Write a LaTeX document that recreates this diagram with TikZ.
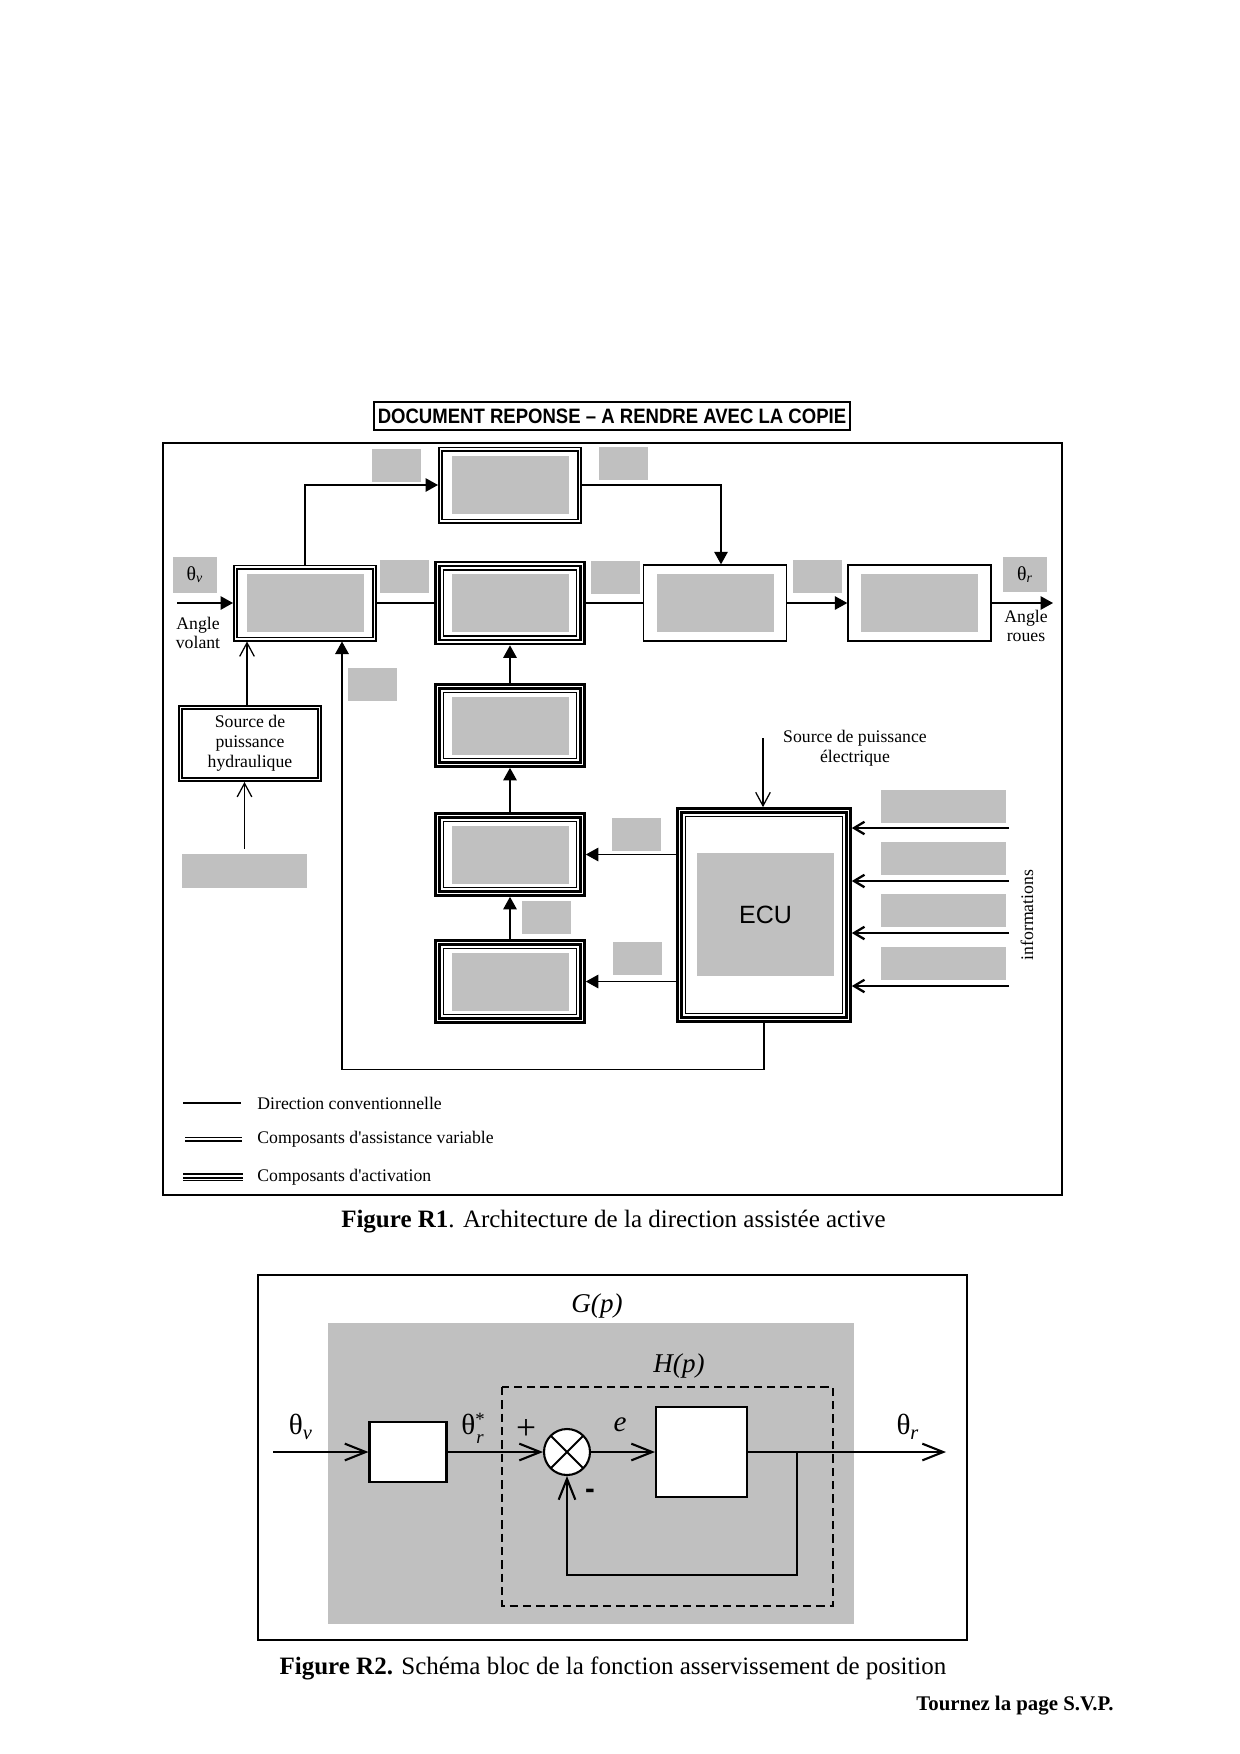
\documentclass[tikz,border=0pt]{standalone}
\usepackage{fontspec}
\setmainfont{Liberation Serif}
\setsansfont{Liberation Sans}
\usepackage{graphicx}
\usetikzlibrary{arrows.meta,calc}
\definecolor{panelgray}{RGB}{192,192,192}
\newcommand{\pxl}{0.48pt}

\begin{document}
\begin{tikzpicture}[x=0.48pt, y=-0.48pt,
  conv/.style={draw, fill=white, line width=0.65pt, minimum width=143*\pxl, minimum height=76*\pxl, inner sep=0pt},
  var/.style={draw, fill=white, line width=0.75pt, double, double distance=0.9pt, outer sep=1.2pt, minimum width=139*\pxl, minimum height=72*\pxl, inner sep=0pt},
  act/.style={draw, fill=white, line width=1.35pt, double, double distance=0.5pt, outer sep=1.6pt, minimum width=145*\pxl, minimum height=78*\pxl, inner sep=0pt},
  ans/.style={fill=panelgray, inner sep=0pt, minimum width=49*\pxl, minimum height=33*\pxl},
  lab/.style={font=\fontsize{8.5}{9.5}\selectfont, align=center, inner sep=0pt},
  arr/.style={-{Triangle[length=6pt,width=6.5pt]}, line width=0.6pt},
  barb/.style={-{Straight Barb[length=6.5pt,width=7pt]}, line width=0.6pt},
  ibarb/.style={-{Straight Barb[length=5pt,width=6pt,line width=1.1pt]}, line width=0.6pt},
  sarr/.style={-{Straight Barb[length=10pt,width=8pt]}, line width=1pt},
  blk/.style={draw, fill=white, line width=1pt, inner sep=0pt},
  big/.style={font=\fontsize{14}{16}\selectfont, inner sep=0pt}
]
\useasboundingbox (0,0) rectangle (1240,1754);

% ---- Figure R1
\node[draw, line width=0.5pt, minimum width=476*\pxl, minimum height=28*\pxl, inner sep=0pt,
  font=\sffamily\bfseries\fontsize{10}{12}\selectfont] (title) at (612,416)
  {\scalebox{0.89}[1]{DOCUMENT REPONSE \textendash\ A RENDRE AVEC LA COPIE}};
\draw[line width=0.6pt] (163,443) rectangle (1062,1195);

% blocs
\node[var] (steer) at (305,603) {};
\node[var] (valve) at (510,485) {};
\node[act] (act1) at (510,603) {};
\node[conv] (rack) at (715,603) {};
\node[conv] (wheels) at (919.5,603) {};
\node[act] (act2) at (510,725.5) {};
\node[act] (act3) at (510,854.5) {};
\node[act] (act4) at (510,981.5) {};
\node[var, lab] (hydro) at (250,743.5) {Source de\\puissance\\hydraulique};
\node[act, minimum width=169*\pxl, minimum height=209*\pxl] (ecu) at (764,915) {};

\foreach \b in {steer,valve,act1,rack,wheels,act2,act3,act4}
  \fill[panelgray] ([shift={(-58.5,-29)}]\b.center) rectangle ([shift={(58.5,29)}]\b.center);
\foreach \b in {act1,act2,act3,act4,ecu}
  \draw[line width=0.6pt] ([shift={(9.4,9.4)}]\b.north west) rectangle ([shift={(-9.4,-9.4)}]\b.south east);

\node[fill=panelgray, minimum width=137*\pxl, minimum height=123*\pxl,
  font=\sffamily\fontsize{12}{14}\selectfont] (ecutxt) at (765.5,914.5) {ECU};

% cases grises
\node[ans] (a1) at (396.5,465.5) {};
\node[ans] (a2) at (623.5,463) {};
\node[ans] (a3) at (404.5,576) {};
\node[ans] (a4) at (615,577.5) {};
\node[ans] (a5) at (817.5,576) {};
\node[ans] (a6) at (372.5,684.5) {};
\node[ans] (a7) at (546.5,917) {};
\node[ans] (a8) at (636,834) {};
\node[ans] (a9) at (637.5,958) {};
\node[ans, minimum width=125*\pxl, minimum height=34*\pxl] (src) at (244.5,871) {};
\node[ans, minimum width=44*\pxl, minimum height=36*\pxl, font=\fontsize{9.5}{10}\selectfont] (thv) at (195,575) {θ\textsubscript{\textit{v}}};
\node[ans, minimum width=44*\pxl, minimum height=35*\pxl, font=\fontsize{9.5}{10}\selectfont] (thr) at (1025,574.5) {θ\textsubscript{\textit{r}}};
\foreach \y [count=\i] in {806.5,858.5,910.5,963}
  \node[ans, minimum width=125*\pxl] (info\i) at (943.5,\y) {};

% liaisons
\coordinate (vin) at (177,603);
\coordinate (vout) at (1053,603);
\draw[arr] (vin) -- (steer.west);
\node[lab] (vinlbl) at (198,633) {Angle\\volant};
\draw[arr] (steer.north) |- (valve.west);
\draw[arr] (valve.east) -| ([shift={(6,0)}]rack.north);
\draw[line width=0.6pt] (steer.east) -- (act1.west);
\draw[line width=0.6pt] (act1.east) -- (rack.west);
\draw[arr] (rack.east) -- (wheels.west);
\draw[arr] (wheels.east) -- (vout);
\node[lab] (voutlbl) at (1026,626) {Angle\\roues};

\draw[barb] ([shift={(-3,0)}]hydro.north) -- ([shift={(-3,0)}]hydro.north |- steer.south);
\draw[barb, shorten <=2.4pt] (src.north) -- (src.north |- hydro.south);

\draw[arr] (act2.north) -- (act1.south);
\draw[arr] (act3.north) -- (act2.south);
\draw[arr] (act4.north) -- (act3.south);
\draw[arr] (ecu.west |- act3.east) -- (act3.east);
\draw[arr] (ecu.west |- act4.east) -- (act4.east);

\coordinate (pwr) at (763,738);
\draw[barb] (pwr) -- (pwr |- ecu.north);
\node[lab] (pwrlbl) at (855,748) {Source de puissance\\électrique};
\foreach \y [count=\i] in {828,881,933,986} {
  \coordinate (in\i) at (1009,\y);
  \draw[ibarb] (in\i) -- (ecu.east |- in\i);
}
\node[lab, rotate=90] (infolbl) at (1027,915) {informations};
\draw[arr] (ecu.south) -- ++(0,47) -| ([shift={(37,0)}]steer.south);

% legende
\draw[line width=0.6pt] (183,1103) -- (241,1103);
\draw[line width=0.75pt, double, double distance=0.9pt] (185,1139) -- (242,1139);
\draw[line width=1.3pt, double, double distance=0.5pt] (183,1176) -- (243,1176);
\draw[line width=0.6pt] (183,1180.5) -- (243,1180.5);
\node[lab, anchor=west] (leg1) at (257,1103) {Direction conventionnelle};
\node[lab, anchor=west] (leg2) at (257,1139) {Composants d\textquotesingle assistance variable};
\node[lab, anchor=west] (leg3) at (257,1177) {Composants d\textquotesingle activation};

\node[font=\fontsize{12}{14}\selectfont] (cap1) at (613.5,1222) {\textbf{Figure R1}. Architecture de la direction assistée active};

% ---- Figure R2
\draw[line width=0.65pt] (258,1275) rectangle (967,1640);
\fill[panelgray] (328,1323) rectangle (854,1624);
\node[font=\itshape\fontsize{13}{15}\selectfont] (glbl) at (597,1306) {G(p)};
\node[font=\itshape\fontsize{13}{15}\selectfont] (hlbl) at (679,1366) {H(p)};
\draw[dash pattern=on 4pt off 2.4pt, line width=0.8pt] (502,1387) rectangle (833,1606);

\node[blk, minimum width=77*\pxl, minimum height=60*\pxl] (blk1) at (408,1452) {};
\node[draw, fill=white, circle, line width=1pt, minimum size=46*\pxl, inner sep=0pt,
  path picture={\draw[line width=1pt] (path picture bounding box.north west) -- (path picture bounding box.south east)
    (path picture bounding box.north east) -- (path picture bounding box.south west);}] (sum) at (567,1452) {};
\node[blk, minimum width=91*\pxl, minimum height=90*\pxl] (blk2) at (701.5,1452) {};

\coordinate (r2in) at (273,1452);
\coordinate (r2out) at (946,1452);
\coordinate (tap) at (797,1452);
\draw[sarr] (r2in) -- (blk1.west);
\draw[sarr] (blk1.east) -- (sum.west);
\draw[sarr] (sum.east) -- (blk2.west);
\draw[sarr] (blk2.east) -- (r2out);
\draw[sarr] (tap) -- ++(0,123) -| (sum.south);

\node[big] (thvin) at (301,1427) {θ\textsubscript{\textit{v}}};
\node[big, anchor=base west] (thref) at (461,1434) {θ\raisebox{-0.7ex}{\fontsize{9}{10}\selectfont\shortstack{*\\[1.5pt]\textit{r}}}};
\node[big, font=\fontsize{17}{18}\selectfont] (plus) at (526,1429) {+};
\node[big, font=\itshape\fontsize{14}{16}\selectfont] (err) at (620,1425) {e};
\node[big, font=\sffamily\bfseries\fontsize{14}{16}\selectfont] (minus) at (590,1494) {-};
\node[big] (throut) at (908,1427) {θ\textsubscript{\textit{r}}};

\node[font=\fontsize{12}{14}\selectfont] (cap2) at (613,1668) {\textbf{Figure R2.} Schéma bloc de la fonction asservissement de position};
\node[anchor=east, font=\bfseries\fontsize{10}{12}\selectfont] (turn) at (1121,1706) {Tournez la page S.V.P.};
\end{tikzpicture}
\end{document}
